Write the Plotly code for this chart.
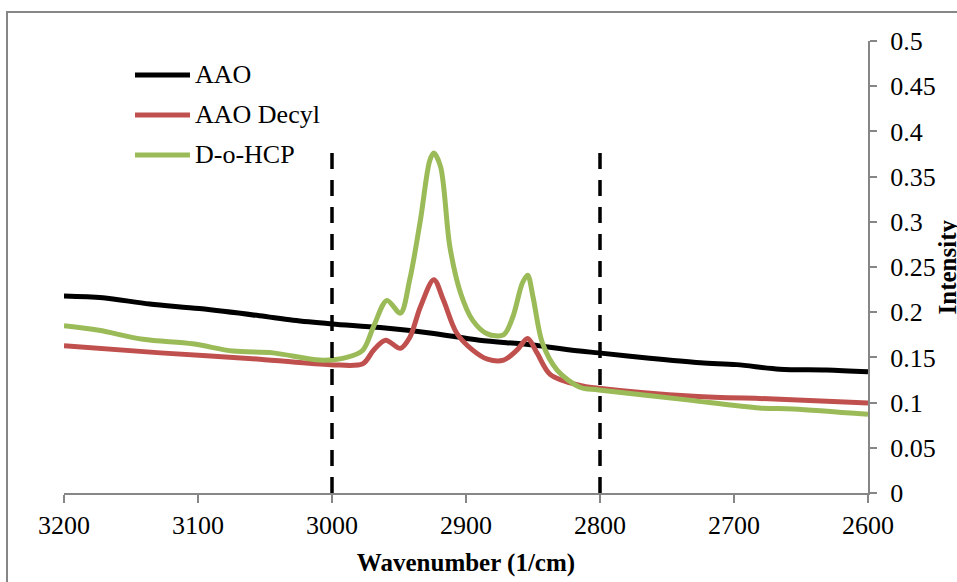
import plotly.graph_objects as go

# ---- data ----
series_names = ["AAO", "AAO Decyl", "D-o-HCP"]

wn_aao = [3200, 3171, 3136, 3099, 3054, 3029, 3000, 2964, 2927, 2890, 2852, 2815,
          2801, 2763, 2725, 2698, 2666, 2631, 2600]
int_aao = [0.218, 0.216, 0.209, 0.204, 0.196, 0.191, 0.187, 0.183, 0.177, 0.169, 0.164, 0.157,
           0.155, 0.149, 0.144, 0.142, 0.137, 0.136, 0.134]

wn_decyl = [3200, 3128, 3054, 3001, 2977, 2969, 2960, 2949, 2942, 2934, 2924, 2917, 2907,
            2895, 2884, 2872, 2862, 2854, 2847, 2837, 2815, 2801, 2730, 2670, 2600]
int_decyl = [0.163, 0.155, 0.148, 0.142, 0.143, 0.158, 0.169, 0.160, 0.172, 0.206, 0.236, 0.214, 0.177,
             0.158, 0.148, 0.147, 0.158, 0.171, 0.155, 0.131, 0.119, 0.116, 0.107, 0.104, 0.0996]

wn_hcp = [3200, 3174, 3141, 3104, 3074, 3044, 3009, 2989, 2977, 2969, 2959, 2949, 2942, 2934,
          2927, 2924, 2919, 2912, 2904, 2895, 2884, 2872, 2865, 2858, 2854, 2850, 2843, 2832,
          2815, 2801, 2735, 2681, 2656, 2600]
int_hcp = [0.185, 0.180, 0.170, 0.165, 0.157, 0.155, 0.147, 0.150, 0.158, 0.184, 0.213, 0.199, 0.236, 0.302,
           0.368, 0.376, 0.361, 0.272, 0.221, 0.191, 0.176, 0.175, 0.195, 0.232, 0.241, 0.217, 0.166, 0.136,
           0.117, 0.114, 0.103, 0.094, 0.093, 0.087]

marker_wn = [3000, 2800]
marker_y = [0, 0.385]

x_ticks = [3200, 3100, 3000, 2900, 2800, 2700, 2600]
y_ticks = [0, 0.05, 0.1, 0.15, 0.2, 0.25, 0.3, 0.35, 0.4, 0.45, 0.5]

colors = ["#000000", "#C0504D", "#9BBB59"]
FONT = "Liberation Serif, Times New Roman, serif"
AX = "#868686"

fig = go.Figure()
for name, xs, ys, c in zip(series_names, [wn_aao, wn_decyl, wn_hcp],
                           [int_aao, int_decyl, int_hcp], colors):
    fig.add_trace(go.Scatter(x=xs, y=ys, mode="lines", name=name,
                             line=dict(color=c, width=5, shape="spline", smoothing=0.9),
                             showlegend=False))

for w in marker_wn:
    fig.add_trace(go.Scatter(x=[w, w], y=marker_y, mode="lines", showlegend=False,
                             line=dict(color="#000000", width=3.5, dash="16px,11px")))

# manual legend (Excel style)
leg_y = [0.9248, 0.8363, 0.7478]
for name, c, ly in zip(series_names, colors, leg_y):
    fig.add_shape(type="line", xref="paper", yref="paper", x0=0.0883, x1=0.1567, y0=ly, y1=ly,
                  line=dict(color=c, width=5))
    fig.add_annotation(xref="paper", yref="paper", x=0.1604, y=ly, text=name, showarrow=False,
                       xanchor="left", yanchor="middle", font=dict(family=FONT, size=26, color="#000000"))

# outer chart border
fig.add_shape(type="rect", xref="paper", yref="paper", x0=-0.0709, x1=1.1144, y0=-0.2146, y1=1.0642,
              line=dict(color=AX, width=2), layer="below")

# right-side title (partly cut by the right edge, as in the reference)
fig.add_annotation(xref="paper", yref="paper", x=1.0796, y=0.5, text="<b>Intensity</b>", showarrow=False,
                   textangle=-90, xanchor="left", yanchor="middle",
                   font=dict(family=FONT, size=25, color="#000000"))

fig.update_layout(
    width=957, height=582,
    margin=dict(l=64, r=89, t=41, b=89, autoexpand=False),
    paper_bgcolor="white", plot_bgcolor="white",
    font=dict(family=FONT, size=26, color="#000000"),
    showlegend=False,
)
fig.update_xaxes(range=[3200, 2600], tickvals=x_ticks, ticktext=[str(v) for v in x_ticks],
                 showgrid=False, zeroline=False, showline=True, linecolor=AX, linewidth=2,
                 ticks="outside", ticklen=8, tickcolor=AX, tickwidth=2, automargin=False,
                 tickfont=dict(family=FONT, size=26, color="#000000"),
                 title=dict(text="<b>Wavenumber (1/cm)</b>", font=dict(family=FONT, size=25), standoff=14))
fig.update_yaxes(range=[0, 0.5], tickvals=y_ticks, ticktext=[f"{v:g}" for v in y_ticks], side="right",
                 showgrid=False, zeroline=False, showline=True, linecolor=AX, linewidth=2,
                 ticks="outside", ticklen=7, tickcolor=AX, tickwidth=2, automargin=False,
                 ticklabelstandoff=8,
                 tickfont=dict(family=FONT, size=26, color="#000000"))

fig.write_html("out.html", config={"displayModeBar": False},
               post_script="document.body.style.margin='0';document.body.style.overflow='hidden';")
